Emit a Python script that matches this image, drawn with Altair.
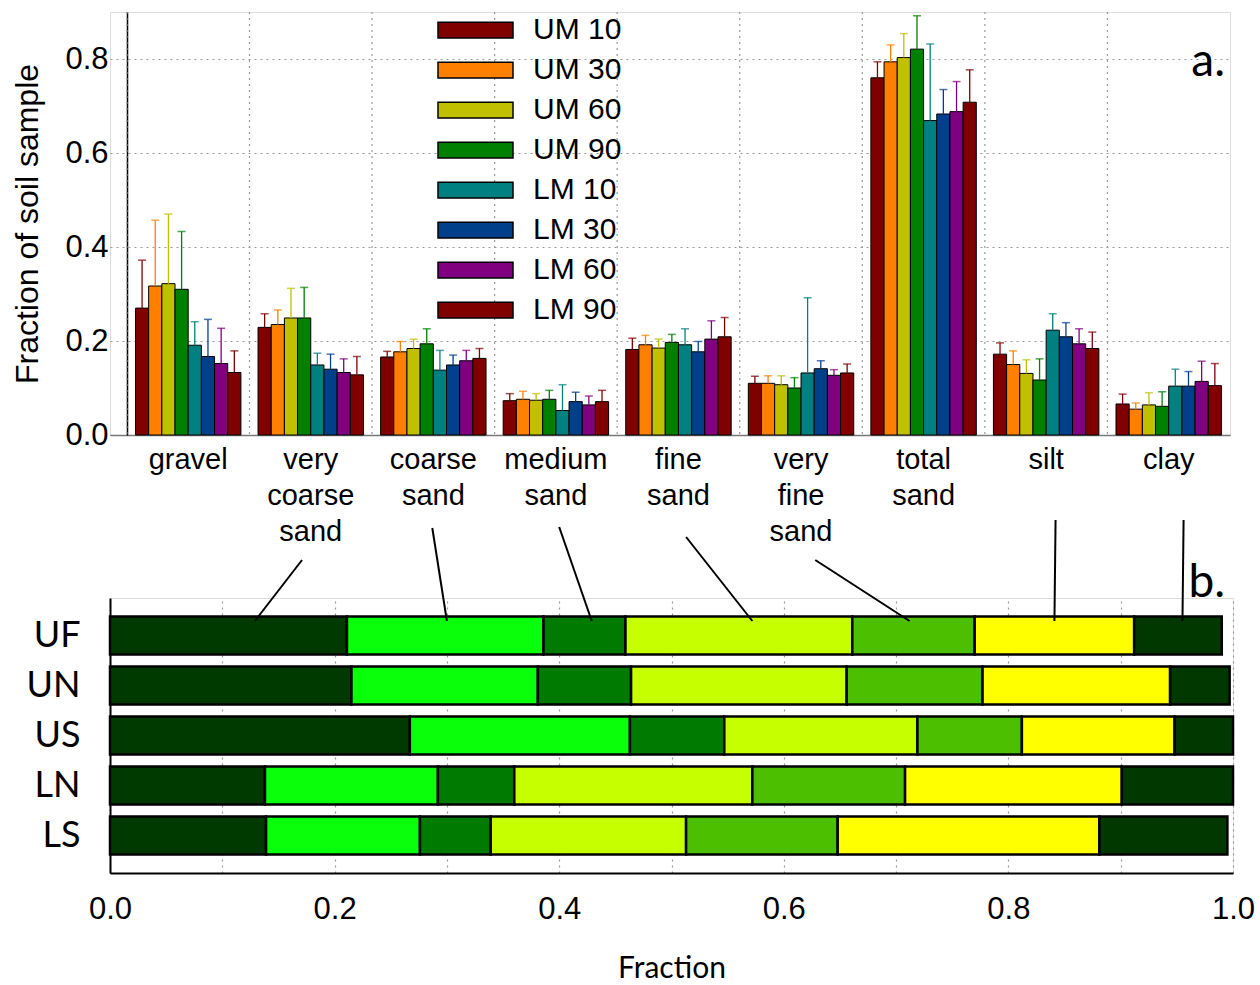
import altair as alt
import pandas as pd

# ---------------- panel a data ----------------
categories = ["gravel", "very coarse sand", "coarse sand", "medium sand", "fine sand",
              "very fine sand", "total sand", "silt", "clay"]
series = ["UM 10", "UM 30", "UM 60", "UM 90", "LM 10", "LM 30", "LM 60", "LM 90"]
series_colors = ["#800000", "#ff8000", "#c0c000", "#008000", "#008080", "#00408a", "#800080", "#800000"]

means = {
    "UM 10": [0.270, 0.229, 0.166, 0.073, 0.182, 0.110, 0.760, 0.172, 0.066],
    "UM 30": [0.317, 0.235, 0.177, 0.076, 0.192, 0.110, 0.794, 0.150, 0.055],
    "UM 60": [0.322, 0.249, 0.184, 0.074, 0.185, 0.107, 0.803, 0.131, 0.064],
    "UM 90": [0.310, 0.249, 0.194, 0.076, 0.197, 0.100, 0.821, 0.117, 0.061],
    "LM 10": [0.191, 0.149, 0.138, 0.052, 0.192, 0.132, 0.669, 0.223, 0.104],
    "LM 30": [0.167, 0.140, 0.149, 0.071, 0.177, 0.141, 0.683, 0.209, 0.104],
    "LM 60": [0.152, 0.133, 0.158, 0.064, 0.204, 0.127, 0.688, 0.194, 0.114],
    "LM 90": [0.133, 0.128, 0.163, 0.071, 0.209, 0.132, 0.708, 0.184, 0.105],
}
uppers = {
    "UM 10": [0.372, 0.258, 0.178, 0.088, 0.206, 0.125, 0.794, 0.196, 0.087],
    "UM 30": [0.457, 0.266, 0.199, 0.093, 0.212, 0.126, 0.830, 0.179, 0.068],
    "UM 60": [0.470, 0.312, 0.204, 0.088, 0.204, 0.126, 0.854, 0.160, 0.090],
    "UM 90": [0.433, 0.314, 0.226, 0.095, 0.214, 0.122, 0.892, 0.162, 0.092],
    "LM 10": [0.241, 0.174, 0.180, 0.107, 0.226, 0.292, 0.832, 0.258, 0.140],
    "LM 30": [0.246, 0.172, 0.170, 0.091, 0.199, 0.158, 0.735, 0.239, 0.135],
    "LM 60": [0.227, 0.162, 0.180, 0.083, 0.243, 0.139, 0.752, 0.226, 0.157],
    "LM 90": [0.179, 0.167, 0.184, 0.095, 0.250, 0.151, 0.777, 0.219, 0.152],
}
y_ticks_a = [0.0, 0.2, 0.4, 0.6, 0.8]

# ---------------- panel b data ----------------
sites = ["UF", "UN", "US", "LN", "LS"]
components = ["very coarse sand", "coarse sand", "medium sand", "fine sand",
              "very fine sand", "silt", "clay"]
component_colors = ["#003a00", "#0aff0a", "#007a00", "#c6ff00", "#4cc000", "#ffff00", "#003800"]
fractions = {
    "UF": [0.211, 0.175, 0.073, 0.202, 0.109, 0.142, 0.078],
    "UN": [0.215, 0.166, 0.083, 0.192, 0.121, 0.167, 0.053],
    "US": [0.267, 0.196, 0.084, 0.172, 0.093, 0.136, 0.052],
    "LN": [0.138, 0.154, 0.068, 0.212, 0.136, 0.193, 0.099],
    "LS": [0.139, 0.137, 0.063, 0.174, 0.135, 0.233, 0.114],
}
x_ticks_b = [0.0, 0.1, 0.2, 0.3, 0.4, 0.5, 0.6, 0.7, 0.8, 0.9, 1.0]

# connector lines from the class labels of panel a to the segments of panel b
conn_x_label = [0.171, 0.287, 0.400, 0.513, 0.628, 0.842, 0.956]
conn_x_segment = [0.129, 0.300, 0.429, 0.572, 0.712, 0.841, 0.955]
conn_y_label = [-38, -70, -71, -61, -38, -78, -78]
conn_y_segment = [23, 23, 23, 23, 23, 23, 23]

ARIAL = "Liberation Sans"
CALIBRI = "Lato"

# ---------------- build tables ----------------
rows = []
for s in series:
    for c, m, u in zip(categories, means[s], uppers[s]):
        rows.append({"cat": c, "series": s, "mean": m, "upper": u})
top_df = pd.DataFrame(rows)
cat_df = pd.DataFrame({"cat": categories})

brows = []
for site in sites:
    for i, (comp, f) in enumerate(zip(components, fractions[site])):
        brows.append({"site": site, "comp": comp, "frac": f, "idx": i})
bot_df = pd.DataFrame(brows)
conn_df = pd.DataFrame({"xa": conn_x_label, "xb": conn_x_segment,
                        "ya": conn_y_label, "yb": conn_y_segment})

# ---------------- panel a ----------------
x_scale_a = alt.Scale(paddingInner=0, paddingOuter=0.069, align=1)
x_axis_a = alt.Axis(title=None, labelExpr="split(datum.label, ' ')", labelAngle=0,
                    ticks=False, grid=False, domainColor="#777777", domainWidth=1.5,
                    labelFont=ARIAL, labelFontSize=29, labelColor="black",
                    labelPadding=10, labelLineHeight=36, labelBaseline="top")
x_a = alt.X("cat:N", sort=categories, scale=x_scale_a, axis=x_axis_a)
xoff = alt.XOffset("series:N", sort=series, scale=alt.Scale(paddingInner=0, paddingOuter=0.65))
y_axis_a = alt.Axis(values=y_ticks_a, format=".1f", title="Fraction of soil sample",
                    offset=-17, ticks=False, labelPadding=19, labelFont=ARIAL,
                    labelFontSize=31, labelColor="black", titleFont=ARIAL,
                    titleFontSize=32, titleFontWeight="normal", titleColor="black",
                    titlePadding=20, domainColor="black", domainWidth=1.5,
                    grid=True, gridDash=[2, 4], gridColor="#999999", gridWidth=1.2)
y_scale_a = alt.Scale(domain=[0, 0.9], nice=False)
color_scale = alt.Scale(domain=series, range=series_colors)

grid_a = alt.Chart(cat_df).mark_rule(strokeDash=[2, 4], color="#999999", strokeWidth=1.2).encode(
    x=alt.X("cat:N", sort=categories, scale=x_scale_a, axis=x_axis_a, bandPosition=0)
)

bars_a = alt.Chart(top_df).mark_bar(stroke="black", strokeWidth=1).encode(
    x=x_a, xOffset=xoff,
    y=alt.Y("mean:Q", scale=y_scale_a, axis=y_axis_a),
    color=alt.Color("series:N", sort=series, scale=color_scale,
                    legend=alt.Legend(title=None, orient="none", legendX=327, legendY=3,
                                      symbolType="M-1,-0.21L1,-0.21L1,0.21L-1,0.21Z",
                                      symbolSize=5625, symbolStrokeColor="black",
                                      symbolStrokeWidth=1.5, symbolOpacity=1,
                                      labelFont=ARIAL, labelFontSize=30, labelColor="black",
                                      labelOffset=19, clipHeight=30, rowPadding=10,
                                      padding=0)),
)
err_a = alt.Chart(top_df).mark_rule(strokeWidth=1.3).encode(
    x=x_a, xOffset=xoff,
    y=alt.Y("mean:Q", scale=y_scale_a, axis=y_axis_a), y2="upper:Q",
    stroke=alt.Stroke("series:N", sort=series, scale=color_scale, legend=None),
)
cap_a = alt.Chart(top_df).mark_tick(size=8, thickness=1.5).encode(
    x=x_a, xOffset=xoff,
    y=alt.Y("upper:Q", scale=y_scale_a, axis=y_axis_a),
    fill=alt.Fill("series:N", sort=series, scale=color_scale, legend=None),
)
label_a = alt.Chart(pd.DataFrame({"t": ["a."]})).mark_text(
    font=CALIBRI, fontSize=46, align="right", baseline="alphabetic", color="black"
).encode(text="t:N", x=alt.value(1115), y=alt.value(64))

top = alt.layer(grid_a, bars_a, err_a, cap_a, label_a).properties(width=1120, height=423)

# ---------------- panel b ----------------
x_scale_b = alt.Scale(domain=[0, 1], nice=False, zero=True)
x_axis_b = alt.Axis(values=x_ticks_b,
                    labelExpr="(round(datum.value * 10) % 2 == 0) ? format(datum.value, '.1f') : ''",
                    title="Fraction", titleFont=CALIBRI, titleFontSize=30,
                    titleFontWeight="normal", titleColor="black", titlePadding=29,
                    ticks=False, labelFont=ARIAL, labelFontSize=31, labelColor="black",
                    labelPadding=21, domainColor="black", domainWidth=2,
                    grid=True, gridDash=[2, 4], gridColor="#999999", gridWidth=1.2,
                    labelFlush=False, labelOverlap=False)

bars_b = alt.Chart(bot_df).mark_bar(stroke="black", strokeWidth=2.5).encode(
    x=alt.X("frac:Q", stack="zero", scale=x_scale_b, axis=x_axis_b),
    y=alt.Y("site:N", sort=sites, scale=alt.Scale(paddingInner=0.24, paddingOuter=0.37),
            axis=alt.Axis(title=None, ticks=False, domainColor="black", domainWidth=2,
                          labelFont=CALIBRI, labelFontSize=36, labelColor="black",
                          labelPadding=30)),
    color=alt.Color("comp:N", sort=components,
                    scale=alt.Scale(domain=components, range=component_colors),
                    legend=None),
    order=alt.Order("idx:Q"),
)
conn_b = alt.Chart(conn_df).mark_rule(color="black", strokeWidth=2).encode(
    x=alt.X("xa:Q", scale=x_scale_b, axis=x_axis_b), x2="xb:Q",
    y=alt.Y("ya:Q", scale=None, axis=None), y2="yb:Q",
)
label_b = alt.Chart(pd.DataFrame({"t": ["b."]})).mark_text(
    font=CALIBRI, fontSize=46, align="right", baseline="alphabetic", color="black"
).encode(text="t:N", x=alt.value(1115), y=alt.value(-1))

bottom = alt.layer(bars_b, conn_b, label_b).resolve_scale(y="independent").properties(
    width=1123, height=275)

chart = alt.vconcat(top, bottom, spacing=-29).resolve_scale(
    color="independent", x="independent", y="independent"
).properties(
    padding={"left": 11, "top": 10, "right": 0, "bottom": 0}
).configure_view(stroke=None).configure(background="white")

chart.save("out.html", embed_options={"renderer": "svg", "actions": False})
